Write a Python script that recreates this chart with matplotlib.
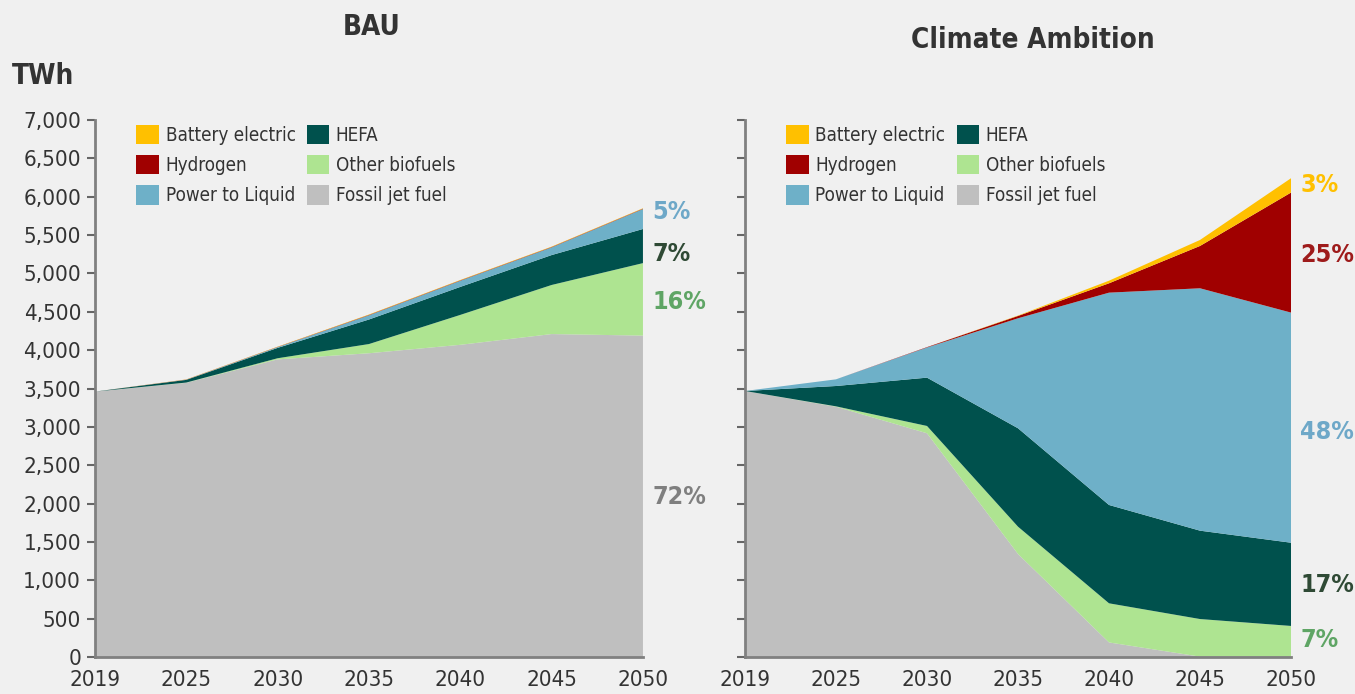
import numpy as np
import matplotlib.pyplot as plt
from matplotlib.patches import Patch

years = ['2019', '2025', '2030', '2035', '2040', '2045', '2050']
series = ['Battery electric', 'Hydrogen', 'Power to Liquid', 'HEFA', 'Other biofuels', 'Fossil jet fuel']
colors = ['#FFC000', '#A00000', '#6EB0C8', '#00514D', '#AEE491', '#BFBFBF']

# BAU scenario, TWh
bau_fossil = [3460, 3575, 3880, 3960, 4070, 4210, 4190]
bau_bio = [0, 3, 15, 120, 390, 640, 945]
bau_hefa = [0, 35, 135, 320, 365, 390, 445]
bau_ptl = [0, 2, 10, 55, 80, 100, 260]
bau_h2 = [0, 2, 3, 5, 5, 5, 5]
bau_bat = [0, 2, 3, 5, 5, 5, 5]

# Climate Ambition scenario, TWh
ca_fossil = [3468, 3263, 2917, 1343, 190, 5, 0]
ca_bio = [0, 5, 95, 356, 510, 490, 405]
ca_hefa = [0, 265, 630, 1283, 1282, 1152, 1085]
ca_ptl = [0, 87, 393, 1434, 2768, 3160, 3000]
ca_h2 = [0, 0, 5, 30, 122, 552, 1565]
ca_bat = [0, 0, 0, 5, 34, 78, 187]

yticks = [0, 500, 1000, 1500, 2000, 2500, 3000, 3500, 4000, 4500, 5000, 5500, 6000, 6500, 7000]
ytick_labels = ['0', '500', '1,000', '1,500', '2,000', '2,500', '3,000', '3,500',
                '4,000', '4,500', '5,000', '5,500', '6,000', '6,500', '7,000']

bau_pct = ['5%', '7%', '16%', '72%']
bau_pct_y = [5800, 5255, 4630, 2085]
bau_pct_col = ['#6EA8C8', '#2F4A35', '#5FA565', '#7F7F7F']
ca_pct = ['3%', '25%', '48%', '17%', '7%']
ca_pct_y = [6155, 5240, 2935, 940, 220]
ca_pct_col = ['#FFC000', '#9E1B1B', '#6EA8C8', '#2F4A35', '#5FA565']

plt.rcParams['font.family'] = ['DejaVu Sans']
plt.rcParams['font.stretch'] = 'condensed'
bg = '#F0F0F0'
txt = '#333333'

fig = plt.figure(figsize=(13.55, 6.94), dpi=100, facecolor=bg)
ax1 = fig.add_axes([0.0701, 0.0533, 0.4044, 0.7737])
ax2 = fig.add_axes([0.5498, 0.0533, 0.4030, 0.7737])

x = np.arange(len(years))


def draw(ax, stacks, pct, pct_y, pct_col, show_labels):
    ax.set_facecolor(bg)
    # bottom-up order: fossil first
    ax.stackplot(x, *stacks[::-1], colors=colors[::-1], linewidth=0)
    ax.set_xlim(0, 6)
    ax.set_ylim(0, 7000)
    ax.set_xticks(x)
    ax.set_xticklabels(years, fontsize=16, color=txt)
    ax.set_yticks(yticks)
    if show_labels:
        ax.set_yticklabels(ytick_labels, fontsize=16, color=txt)
    else:
        ax.set_yticklabels([])
    ax.tick_params(axis='x', length=0, pad=9)
    ax.tick_params(axis='y', length=6, width=1.5, color='#666666', pad=4)
    for s in ['top', 'right']:
        ax.spines[s].set_visible(False)
    for s in ['left', 'bottom']:
        ax.spines[s].set_color('#808080')
        ax.spines[s].set_linewidth(2)
    for t, yy, c in zip(pct, pct_y, pct_col):
        ax.text(6.1, yy, t, color=c, fontsize=18, fontweight='bold',
                ha='left', va='center', clip_on=False)
    handles = [Patch(facecolor=c, edgecolor='none') for c in colors]
    ax.legend(handles, series, ncol=2, loc='upper left', frameon=False,
              bbox_to_anchor=(0.062, 1.005), borderaxespad=0, fontsize=13.5,
              handlelength=1.2, handleheight=1.2, handletextpad=0.35,
              labelspacing=0.55, columnspacing=0.6, labelcolor=txt)


draw(ax1, [bau_bat, bau_h2, bau_ptl, bau_hefa, bau_bio, bau_fossil],
     bau_pct, bau_pct_y, bau_pct_col, True)
draw(ax2, [ca_bat, ca_h2, ca_ptl, ca_hefa, ca_bio, ca_fossil],
     ca_pct, ca_pct_y, ca_pct_col, False)

fig.text(0.274, 0.961, 'BAU', fontsize=20, fontweight='bold', color=txt, ha='center', va='center')
fig.text(0.762, 0.942, 'Climate Ambition', fontsize=20, fontweight='bold', color=txt, ha='center', va='center')
fig.text(0.009, 0.89, 'TWh', fontsize=20, fontweight='bold', color=txt, ha='left', va='center')

fig.savefig('out.png', dpi=100, facecolor=bg)
